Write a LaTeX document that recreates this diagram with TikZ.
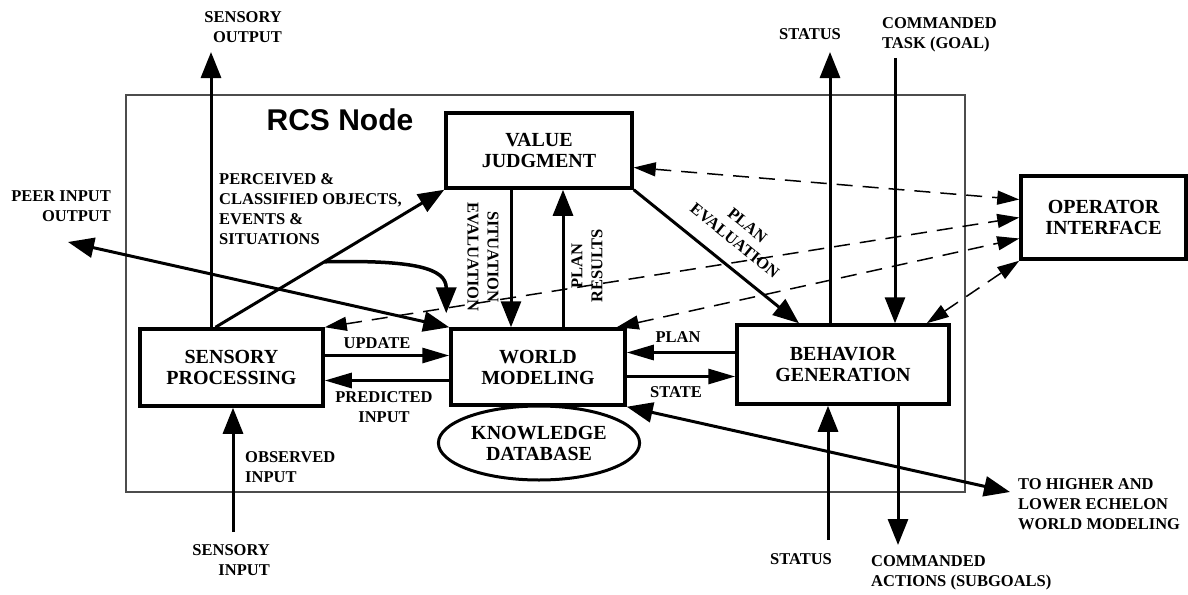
\documentclass[tikz,border=0pt]{standalone}
\usepackage{fontspec}
\setmainfont{Liberation Serif}
\newfontfamily\rcsfont{Liberation Sans}
\usetikzlibrary{arrows.meta,shapes.geometric}
\colorlet{framegray}{black!70}

\begin{document}
\begin{tikzpicture}[x=1pt,y=-1pt]
\tikzset{BoxStyle/.style ={draw, line width=3.5pt, align=center, font=\bfseries\fontsize{20}{21}\selectfont}}
\tikzset{LabelStyle/.style ={inner sep=0pt, align=center, font=\bfseries\fontsize{16.5}{20}\selectfont}}
\tikzset{ArrowStyle/.style ={line width=3pt, -{Triangle[length=26pt,width=20pt]}}}
\tikzset{FlatArrowStyle/.style ={line width=3pt, -{Triangle[length=27pt,width=15pt]}}}
\tikzset{TwoWayStyle/.style ={line width=3pt, {Triangle[length=26pt,width=20pt]}-{Triangle[length=26pt,width=20pt]}}}
\tikzset{DashStyle/.style ={line width=1.5pt, dash pattern=on 16pt off 10pt, {Triangle[length=22pt,width=14pt]}-{Triangle[length=22pt,width=14pt]}}}
\useasboundingbox (0,0) rectangle (1188,594);
\draw[framegray, line width=1.5pt] (126,95) rectangle (965,492);
\node[font=\rcsfont\bfseries\fontsize{30}{32}\selectfont] (rcs) at (340,120) {RCS Node};
\node[BoxStyle, minimum width=186pt, minimum height=75pt] (vj) at (539,150.5) {VALUE\\JUDGMENT};
\node[BoxStyle, minimum width=183pt, minimum height=77pt] (sp) at (231.5,367.5) {SENSORY\\PROCESSING};
\node[BoxStyle, minimum width=174pt, minimum height=76pt] (wm) at (538,367) {WORLD\\MODELING};
\node[BoxStyle, minimum width=212pt, minimum height=79pt] (bg) at (843,364.5) {BEHAVIOR\\GENERATION};
\node[BoxStyle, minimum width=165pt, minimum height=83pt] (oi) at (1103.5,217.5) {OPERATOR\\INTERFACE};
\node[ellipse, draw, line width=3pt, align=center, font=\bfseries\fontsize{20}{21}\selectfont, minimum width=194pt, minimum height=74pt] (kd) at (539,443) {KNOWLEDGE\\DATABASE};
\coordinate (sout) at (211,52);
\coordinate (peer) at (68,242);
\coordinate (stup) at (830,52);
\coordinate (task) at (895,58);
\coordinate (obs) at (233,532);
\coordinate (stdn) at (828,540);
\coordinate (act) at (898,545);
\coordinate (echl) at (1010,492);
\draw[ArrowStyle] (sp.north -| sout) -- (sout);
\draw[ArrowStyle] ([xshift=-16pt]sp.north) -- coordinate[pos=0.476] (bend) (vj.south west);
\draw[ArrowStyle, line width=3.5pt] (bend) .. controls +(90,-2) and +(0,-45) .. ([xshift=-3pt,yshift=14pt]wm.north west);
\draw[TwoWayStyle] (peer) -- (wm.north west);
\draw[ArrowStyle] ([xshift=-28pt]vj.south) -- ([xshift=-28pt]vj.south |- wm.north);
\draw[ArrowStyle] ([xshift=24pt]vj.south |- wm.north) -- ([xshift=24pt]vj.south);
\draw[ArrowStyle] (vj.south east) -- ([xshift=-44pt]bg.north);
\draw[ArrowStyle] (bg.north -| stup) -- (stup);
\draw[ArrowStyle] (task) -- (task |- bg.north);
\draw[FlatArrowStyle] ([yshift=12pt]sp.east) -- ([yshift=12pt]sp.east -| wm.west);
\draw[FlatArrowStyle] ([yshift=-13pt]sp.east -| wm.west) -- ([yshift=-13pt]sp.east);
\draw[FlatArrowStyle] ([yshift=12pt]bg.west) -- ([yshift=12pt]bg.west -| wm.east);
\draw[FlatArrowStyle] ([yshift=-12pt]bg.west -| wm.east) -- ([yshift=-12pt]bg.west);
\draw[ArrowStyle] (obs) -- (obs |- sp.south);
\draw[ArrowStyle] (stdn) -- (stdn |- bg.south);
\draw[ArrowStyle] (bg.south -| act) -- (act);
\draw[TwoWayStyle] (wm.south east) -- (echl);
\draw[DashStyle] ([yshift=-17pt]vj.east) -- ([yshift=18pt]oi.west);
\draw[DashStyle] (sp.north east) -- (oi.west);
\draw[DashStyle] ([xshift=-10pt]wm.north east) -- ([yshift=-21pt]oi.west);
\draw[DashStyle] ([xshift=-24pt]bg.north east) -- (oi.south west);
\node[LabelStyle, anchor=east, align=right] (soutl) at (282,27) {SENSORY\\OUTPUT};
\node[LabelStyle, anchor=east, align=right] (peerl) at (111,206) {PEER INPUT\\OUTPUT};
\node[LabelStyle, anchor=west, align=left] (percl) at (219,209) {PERCEIVED \&\\CLASSIFIED OBJECTS,\\EVENTS \&\\SITUATIONS};
\node[LabelStyle, rotate=-90] (sitl) at (483,257) {SITUATION\\EVALUATION};
\node[LabelStyle, rotate=90] (resl) at (587,266) {PLAN\\RESULTS};
\node[LabelStyle, rotate=-39] (evall) at (741,233) {PLAN\\EVALUATION};
\node[LabelStyle] (stupl) at (810,34) {STATUS};
\node[LabelStyle, anchor=west, align=left] (taskl) at (882,35) {COMMANDED\\TASK (GOAL)};
\node[LabelStyle] (updl) at (377,343) {UPDATE};
\node[LabelStyle] (predl) at (384,407) {PREDICTED\\INPUT};
\node[LabelStyle] (planl) at (678,337) {PLAN};
\node[LabelStyle] (statel) at (676,392) {STATE};
\node[LabelStyle, anchor=west, align=left] (obsl) at (245,467) {OBSERVED\\INPUT};
\node[LabelStyle, anchor=east, align=right] (sinl) at (270,560) {SENSORY\\INPUT};
\node[LabelStyle] (stdnl) at (801,559) {STATUS};
\node[LabelStyle, anchor=west, align=left] (actl) at (871,573) {COMMANDED\\ACTIONS (SUBGOALS)};
\node[LabelStyle, anchor=west, align=left] (echll) at (1018,504) {TO HIGHER AND\\LOWER ECHELON\\WORLD MODELING};
\end{tikzpicture}
\end{document}
